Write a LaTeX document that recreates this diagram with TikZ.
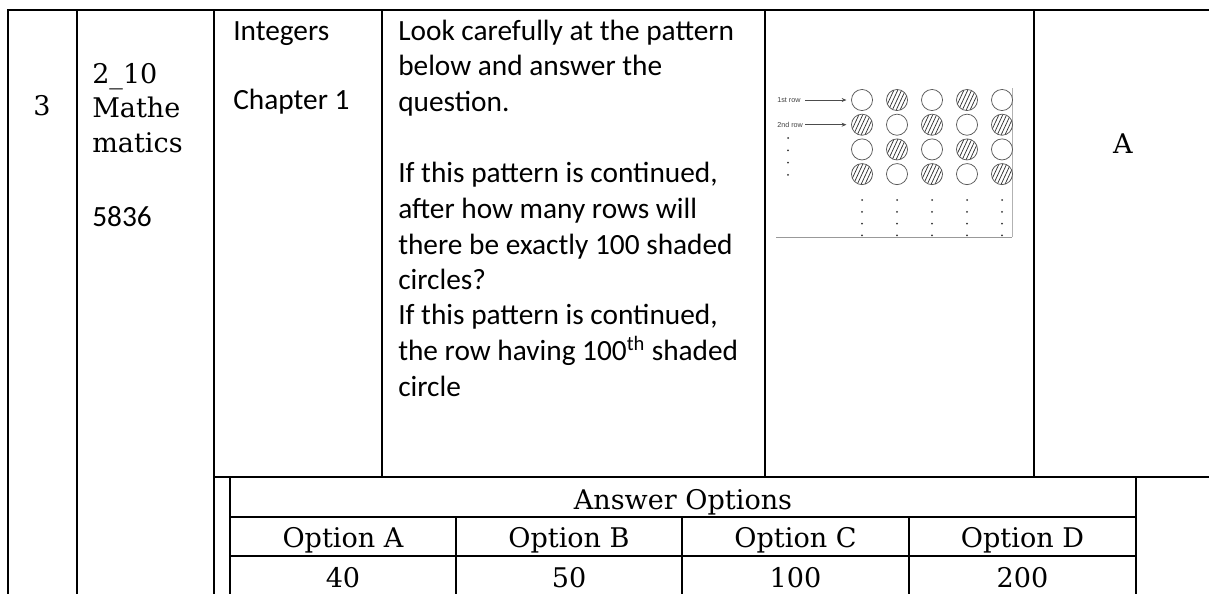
\documentclass[tikz,border=0pt]{standalone}
\usepackage{fontspec}
\setmainfont{Carlito}
\newfontfamily\cambria{DejaVu Serif}
\newfontfamily\tinysans{Liberation Sans}
\usetikzlibrary{arrows.meta}
\begin{document}
\begin{tikzpicture}[x=0.75pt,y=-0.75pt,
  grid/.style={line width=1.7pt, line cap=rect},
  cal/.style={anchor=base west, inner sep=0pt, font=\fontsize{22}{26}\selectfont},
  camb/.style={anchor=base west, inner sep=0pt, font=\cambria\fontsize{20.3}{24}\selectfont},
  cambc/.style={anchor=base, inner sep=0pt, font=\cambria\fontsize{20.3}{24}\selectfont},
  ring/.style={circle, draw=black!65, line width=0.55pt, minimum size=15.8pt, inner sep=0pt},
  hatched/.style={ring, path picture={
      \foreach \k in {-5,...,5}{
        \draw[line width=0.55pt, black!80]
          ([xshift=\k*2.9pt-4.2pt, yshift=-9pt]path picture bounding box.center) -- ++(8.4pt,18pt);}}},
  lbl/.style={anchor=west, inner sep=0pt, font=\tinysans\fontsize{5.4}{6}\selectfont, text=black!75},
  dot/.style={circle, fill=black!80, inner sep=0pt, minimum size=1.5pt},
  thin/.style={line width=0.55pt, draw=black!70}
]
\useasboundingbox (0,0) rectangle (1209,593);
\fill[white] (0,0) rectangle (1209,593);

% ---- outer table lines ----
\draw[grid] (8,10) -- (1209,10);
\draw[grid] (8,10) -- (8,593);
\draw[grid] (77,10) -- (77,593);
\draw[grid] (214,10) -- (214,593);
\draw[grid] (382,10) -- (382,477);
\draw[grid] (765,10) -- (765,477);
\draw[grid] (1034,10) -- (1034,477);
\draw[grid] (214,477) -- (1209,477);
% ---- inner answer table ----
\draw[grid] (230,477) -- (230,593);
\draw[grid] (1136,477) -- (1136,593);
\draw[grid] (230,517) -- (1136,517);
\draw[grid] (230,556) -- (1136,556);
\draw[grid] (456,517) -- (456,593);
\draw[grid] (682,517) -- (682,593);
\draw[grid] (909,517) -- (909,593);

% ---- first columns ----
\node[cambc] (num) at (42,115) {3};
\node[camb] (s1) at (92,83) {2\_10};
\node[camb] (s2) at (92,117) {Mathe};
\node[camb] (s3) at (92,152) {matics};
\node[cal] (s4) at (92,226) {5836};
\node[cal] (t1) at (233,40) {Integers};
\node[cal] (t2) at (233,109) {Chapter 1};

% ---- question text ----
\node[cal] (q1) at (398,40) {Look carefully at the pattern};
\node[cal] (q2) at (398,75.7) {below and answer the};
\node[cal] (q3) at (398,111.4) {question.};
\node[cal] (q4) at (398,182.8) {If this pattern is continued,};
\node[cal] (q5) at (398,218.5) {after how many rows will};
\node[cal] (q6) at (398,254.2) {there be exactly 100 shaded};
\node[cal] (q7) at (398,289.9) {circles?};
\node[cal] (q8) at (398,324.5) {If this pattern is continued,};
\node[cal] (q9) at (398,360.2) {the row having 100\textsuperscript{th} shaded};
\node[cal] (q10) at (398,396) {circle};

% ---- answer column ----
\node[cambc] (ans) at (1123,153) {A};

% ---- answer options ----
\node[cambc] (ao) at (683,509) {Answer Options};
\node[cambc] (oa) at (343,547) {Option A};
\node[cambc] (ob) at (569,547) {Option B};
\node[cambc] (oc) at (795.5,547) {Option C};
\node[cambc] (od) at (1022.5,547) {Option D};
\node[cambc] (va) at (343,587) {40};
\node[cambc] (vb) at (569,587) {50};
\node[cambc] (vc) at (795.5,587) {100};
\node[cambc] (vd) at (1022.5,587) {200};

% ---- pattern picture ----
\draw[line width=0.6pt, black!40] (776,237) -- (1012,237);
\draw[line width=0.6pt, black!30] (1012,88) -- (1012,237);
\foreach \c in {1,...,5}{
  \foreach \r in {1,...,4}{
    \pgfmathtruncatemacro{\pty}{mod(\c+\r,2)}
    \pgfmathsetmacro{\px}{862+35*(\c-1)}
    \pgfmathsetmacro{\py}{100+24.7*(\r-1)}
    \ifnum\pty=1
      \node[hatched] (c-\r-\c) at (\px,\py) {};
    \else
      \node[ring] (c-\r-\c) at (\px,\py) {};
    \fi
  }
  \foreach \d in {0,...,3}{
    \pgfmathsetmacro{\qx}{862+35*(\c-1)}
    \pgfmathsetmacro{\dy}{200+11.8*\d}
    \node[dot] (d-\c-\d) at (\qx,\dy) {};
  }
}
\node[lbl] (l1) at (777,100) {1st row};
\node[lbl] (l2) at (777,124.7) {2nd row};
\coordinate (a1) at (805,100);
\coordinate (a2) at (805,124.7);
\draw[thin, -{Stealth[length=3.6pt,width=3pt]}] (a1) -- ([xshift=-3.5pt]c-1-1.west);
\draw[thin, -{Stealth[length=3.6pt,width=3pt]}] (a2) -- ([xshift=-3.5pt]c-2-1.west);
\foreach \d in {0,...,3}{
  \pgfmathsetmacro{\dy}{138+12.3*\d}
  \node[dot] (ld-\d) at (788,\dy) {};
}
\end{tikzpicture}
\end{document}
